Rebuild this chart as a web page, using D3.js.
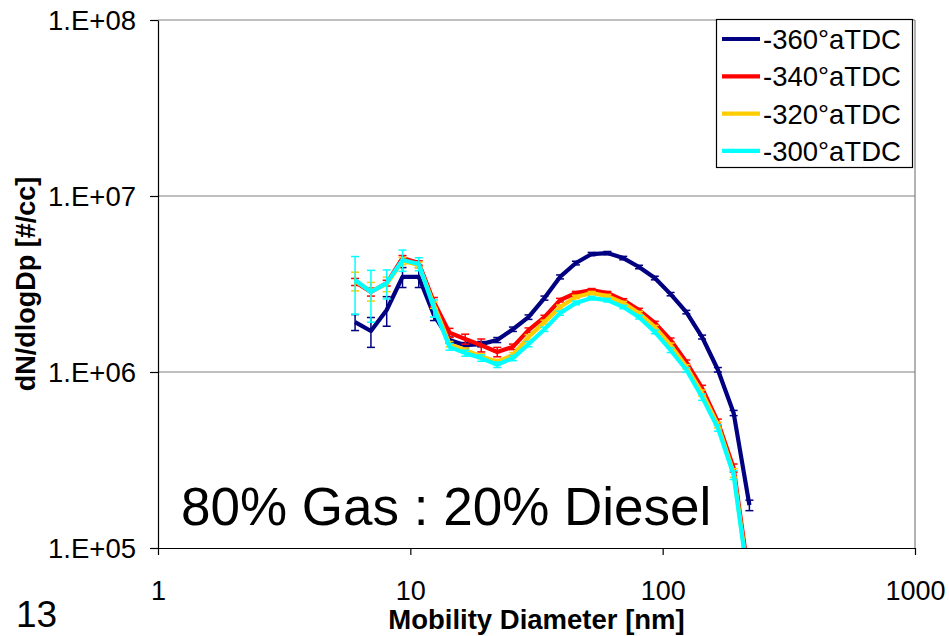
<!DOCTYPE html>
<html>
<head>
<meta charset="utf-8">
<script src="https://cdn.jsdelivr.net/npm/d3@7"></script>
<style>
html,body{margin:0;padding:0;background:#fff;}
text{font-family:"Liberation Sans",Arial,sans-serif;}
</style>
</head>
<body>
<svg id="chart" width="949" height="636"></svg>
<script>
// Mobility diameter bins [nm]
const diameters = [6.04,6.98,8.06,9.31,10.8,12.4,14.3,16.5,19.1,22.1,25.5,29.4,34.0,39.2,45.3,52.3,60.4,69.8,80.6,93.1,107.5,124.1,143.3,165.5,191.1,220.7];

const seriesNames = ["-360°aTDC","-340°aTDC","-320°aTDC","-300°aTDC"];
const seriesColors = ["#000080","#FF0000","#FFCC00","#00FFFF"];

const s360 = [1.92e6,1.71e6,2.25e6,3.47e6,3.47e6,2.11e6,1.52e6,1.42e6,1.44e6,1.52e6,1.75e6,2.05e6,2.63e6,3.47e6,4.16e6,4.68e6,4.74e6,4.44e6,3.95e6,3.42e6,2.77e6,2.19e6,1.58e6,1.03e6,5.85e5,1.75e5];
const s340 = [3.25e6,2.85e6,3.20e6,4.44e6,4.16e6,2.50e6,1.67e6,1.54e6,1.42e6,1.30e6,1.39e6,1.73e6,2.05e6,2.56e6,2.81e6,2.92e6,2.81e6,2.56e6,2.25e6,1.90e6,1.52e6,1.14e6,8.1e5,5.2e5,2.85e5,6.5e4];
const s320 = [3.29e6,2.88e6,3.16e6,4.27e6,4.06e6,2.40e6,1.44e6,1.33e6,1.23e6,1.14e6,1.25e6,1.58e6,1.92e6,2.34e6,2.67e6,2.81e6,2.70e6,2.47e6,2.16e6,1.80e6,1.42e6,1.07e6,7.6e5,5.0e5,2.67e5,6.0e4];
const s300 = [3.33e6,2.85e6,3.20e6,4.33e6,4.11e6,2.31e6,1.39e6,1.28e6,1.20e6,1.10e6,1.20e6,1.44e6,1.75e6,2.16e6,2.47e6,2.63e6,2.56e6,2.34e6,2.05e6,1.69e6,1.33e6,1.03e6,7.2e5,4.81e5,2.60e5,5.8e4];

const e360 = [2.0e5,3.3e5,4.3e5,4.5e5,4.5e5,1.5e5,6e4,5e4,5e4,5e4,5e4,6e4,7e4,9e4,1.0e5,1.0e5,1.0e5,1.0e5,9e4,8e4,6e4,5e4,4e4,3e4,2e4,1.2e4];
const e340 = [1.5e5,1.5e5,1.2e5,1.5e5,1.2e5,1.5e5,1.0e5,1.0e5,1.2e5,8e4,5e4,5e4,5e4,6e4,6e4,6e4,6e4,5e4,5e4,4e4,4e4,3e4,3e4,2e4,1.5e4,5e3];
const e320 = [4.0e5,3.5e5,3.0e5,2.0e5,1.5e5,1.0e5,5e4,4e4,4e4,4e4,4e4,5e4,5e4,6e4,6e4,6e4,6e4,5e4,5e4,4e4,4e4,3e4,3e4,2e4,1.5e4,5e3];
const e300 = [1.2e6,9.3e5,6.0e5,6.0e5,3.5e5,2.6e5,6e4,5e4,5e4,4e4,4e4,5e4,5e4,6e4,6e4,6e4,6e4,5e4,5e4,4e4,4e4,3e4,3e4,2e4,1.5e4,5e3];

const seriesValues = [s360,s340,s320,s300];
const seriesErrors = [e360,e340,e320,e300];

const xTicks = [1,10,100,1000];
const xTickLabels = ["1","10","100","1000"];
const yTicks = [1e5,1e6,1e7,1e8];
const yTickLabels = ["1.E+05","1.E+06","1.E+07","1.E+08"];

const xTitle = "Mobility Diameter [nm]";
const yTitle = "dN/dlogDp [#/cc]";
const annotation = "80% Gas : 20% Diesel";
const pageNumber = "13";

const L = 158, R = 915, T = 20, B = 548;
const svg = d3.select("#chart");
const x = d3.scaleLog().domain([1,1000]).range([L,R]);
const y = d3.scaleLog().domain([1e5,1e8]).range([B,T]);

// gridlines
svg.append("g").selectAll("line").data(yTicks.slice(1)).join("line")
  .attr("x1",L).attr("x2",R).attr("y1",d=>y(d)).attr("y2",d=>y(d))
  .attr("stroke","#808080").attr("stroke-width",1.2);
// right border
svg.append("line").attr("x1",R).attr("x2",R).attr("y1",T).attr("y2",B)
  .attr("stroke","#808080").attr("stroke-width",1.2);

svg.append("defs").append("clipPath").attr("id","clip")
  .append("rect").attr("x",L).attr("y",T).attr("width",R-L).attr("height",B-T);

// x axis
const xAxis = svg.append("g").attr("transform",`translate(0,${B})`)
  .call(d3.axisBottom(x).tickValues(xTicks).tickFormat((d,i)=>xTickLabels[i]).tickSize(7).tickSizeOuter(0));
xAxis.select(".domain").attr("stroke","#000").attr("stroke-width",1.2);
xAxis.selectAll(".tick line").attr("stroke","#000").attr("stroke-width",1.2);
xAxis.selectAll(".tick text").attr("y",52).attr("dy",0).attr("fill","#000")
  .style("font-size","27px").style("font-family","'Liberation Sans',Arial,sans-serif");

// y axis
const yAxis = svg.append("g").attr("transform",`translate(${L},0)`)
  .call(d3.axisLeft(y).tickValues(yTicks).tickFormat((d,i)=>yTickLabels[i]).tickSize(8).tickSizeOuter(0).tickPadding(14));
yAxis.select(".domain").attr("stroke","#000").attr("stroke-width",1.2);
yAxis.selectAll(".tick line").attr("stroke","#000").attr("stroke-width",1.2);
yAxis.selectAll(".tick text").attr("fill","#000").attr("dy","0.36em")
  .style("font-size","27.5px").style("font-family","'Liberation Sans',Arial,sans-serif");

// series
const plot = svg.append("g").attr("clip-path","url(#clip)");
const line = d3.line().x((d,i)=>x(diameters[i])).y(d=>y(d));
seriesValues.forEach((vals,si)=>{
  const g = plot.append("g");
  const col = seriesColors[si];
  const errs = seriesErrors[si];
  g.append("path").datum(vals).attr("d",line)
    .attr("fill","none").attr("stroke",col).attr("stroke-width",4.2).attr("stroke-linejoin","round");
  const eb = g.selectAll(".eb").data(vals).join("g");
  eb.append("line")
    .attr("x1",(d,i)=>x(diameters[i])).attr("x2",(d,i)=>x(diameters[i]))
    .attr("y1",(d,i)=>y(d+errs[i])).attr("y2",(d,i)=>y(Math.max(d-errs[i],1)))
    .attr("stroke",col).attr("stroke-width",1.5);
  eb.append("line")
    .attr("x1",(d,i)=>x(diameters[i])-4).attr("x2",(d,i)=>x(diameters[i])+4)
    .attr("y1",(d,i)=>y(d+errs[i])).attr("y2",(d,i)=>y(d+errs[i]))
    .attr("stroke",col).attr("stroke-width",1.5);
  eb.append("line")
    .attr("x1",(d,i)=>x(diameters[i])-4).attr("x2",(d,i)=>x(diameters[i])+4)
    .attr("y1",(d,i)=>y(Math.max(d-errs[i],1))).attr("y2",(d,i)=>y(Math.max(d-errs[i],1)))
    .attr("stroke",col).attr("stroke-width",1.5);
});

// legend
const lg = svg.append("g");
lg.append("rect").attr("x",716.5).attr("y",19.5).attr("width",196).attr("height",148)
  .attr("fill","#fff").attr("stroke","#000").attr("stroke-width",1.2);
seriesNames.forEach((n,i)=>{
  const cy = 39 + i*37.3;
  lg.append("line").attr("x1",722).attr("x2",760).attr("y1",cy).attr("y2",cy)
    .attr("stroke",seriesColors[i]).attr("stroke-width",4.2);
  lg.append("text").attr("x",763).attr("y",cy).attr("dy","0.36em")
    .style("font-size","27.5px").attr("fill","#000").text(n);
});

// annotation
svg.append("text").attr("x",181).attr("y",525).style("font-size","53px").attr("fill","#000").text(annotation);

// titles
svg.append("text").attr("x",(L+R)/2).attr("y",629).attr("text-anchor","middle")
  .style("font-size","27.5px").style("font-weight","bold").attr("fill","#000").text(xTitle);
svg.append("text").attr("transform",`translate(35,${(T+B)/2}) rotate(-90)`).attr("text-anchor","middle")
  .style("font-size","27px").style("font-weight","bold").attr("fill","#000").text(yTitle);

svg.append("text").attr("x",16).attr("y",627).style("font-size","37px").attr("fill","#000").text(pageNumber);
</script>
</body>
</html>
